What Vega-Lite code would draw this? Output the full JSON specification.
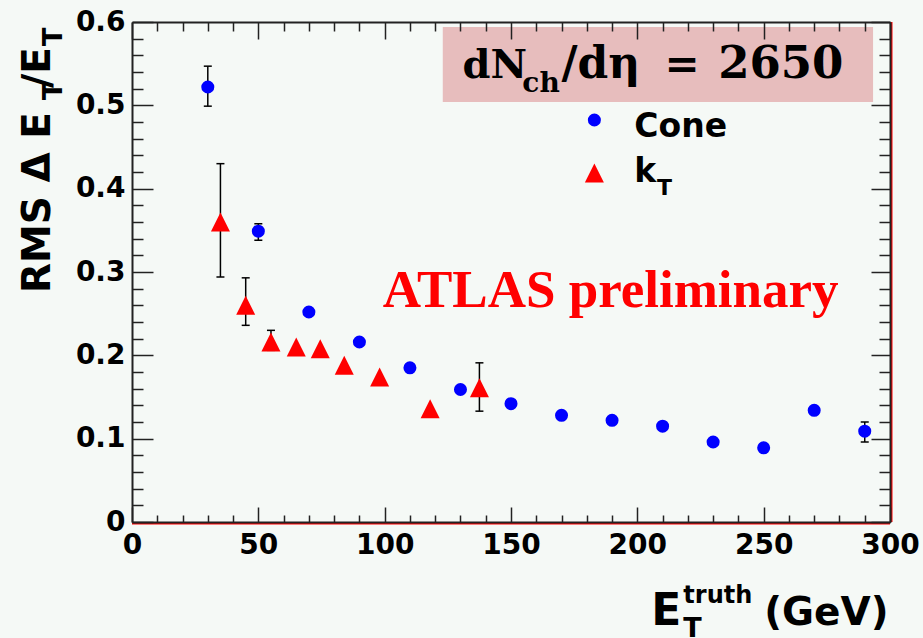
{
  "$schema": "https://vega.github.io/schema/vega-lite/v6.json",
  "width": 758,
  "height": 500,
  "autosize": {"type": "none"},
  "padding": {"left": 132, "top": 22, "right": 33, "bottom": 116},
  "background": "#f5f9f6",
  "config": {"view": {"stroke": null}},
  "datasets": {
    "pts": [
      {"series": "Cone", "x": 30, "y": 0.522, "lo": 0.499, "hi": 0.547},
      {"series": "Cone", "x": 50, "y": 0.349, "lo": 0.338, "hi": 0.358},
      {"series": "Cone", "x": 70, "y": 0.252},
      {"series": "Cone", "x": 90, "y": 0.216},
      {"series": "Cone", "x": 110, "y": 0.185},
      {"series": "Cone", "x": 130, "y": 0.159},
      {"series": "Cone", "x": 150, "y": 0.142},
      {"series": "Cone", "x": 170, "y": 0.128},
      {"series": "Cone", "x": 190, "y": 0.122},
      {"series": "Cone", "x": 210, "y": 0.115},
      {"series": "Cone", "x": 230, "y": 0.096},
      {"series": "Cone", "x": 250, "y": 0.089},
      {"series": "Cone", "x": 270, "y": 0.134},
      {"series": "Cone", "x": 290, "y": 0.109, "lo": 0.096, "hi": 0.120},
      {"series": "kT", "x": 35, "y": 0.36, "lo": 0.294, "hi": 0.43},
      {"series": "kT", "x": 45, "y": 0.26, "lo": 0.236, "hi": 0.293},
      {"series": "kT", "x": 55, "y": 0.216, "lo": 0.206, "hi": 0.230},
      {"series": "kT", "x": 65, "y": 0.21},
      {"series": "kT", "x": 74.5, "y": 0.208},
      {"series": "kT", "x": 84, "y": 0.188},
      {"series": "kT", "x": 98, "y": 0.174},
      {"series": "kT", "x": 118, "y": 0.136},
      {"series": "kT", "x": 137.5, "y": 0.161, "lo": 0.133, "hi": 0.191}
    ]
  },
  "resolve": {"axis": {"x": "independent", "y": "independent"}},
  "layer": [
    {
      "data": {"values": [{}]},
      "mark": {"type": "rect", "fill": "#e7bdbd"},
      "encoding": {
        "x": {"datum": 123, "type": "quantitative", "scale": {"domain": [0, 300], "nice": false, "zero": false}, "axis": null},
        "x2": {"datum": 293.3},
        "y": {"datum": 0.594, "type": "quantitative", "scale": {"domain": [0, 0.6], "nice": false}, "axis": null},
        "y2": {"datum": 0.504}
      }
    },
    {
      "data": {"name": "pts"},
      "transform": [{"filter": "isValid(datum.lo)"}],
      "mark": {"type": "rule", "color": "#000", "strokeWidth": 1.5},
      "encoding": {
        "x": {"field": "x", "type": "quantitative", "scale": {"domain": [0, 300], "nice": false, "zero": false}, "axis": null},
        "y": {"field": "lo", "type": "quantitative", "scale": {"domain": [0, 0.6], "nice": false}, "axis": null},
        "y2": {"field": "hi"}
      }
    },
    {
      "data": {"name": "pts"},
      "transform": [{"filter": "isValid(datum.lo)"}],
      "mark": {"type": "tick", "orient": "horizontal", "color": "#000", "size": 8, "thickness": 1.5, "opacity": 1},
      "encoding": {
        "x": {"field": "x", "type": "quantitative", "scale": {"domain": [0, 300], "nice": false, "zero": false}, "axis": null},
        "y": {"field": "lo", "type": "quantitative", "scale": {"domain": [0, 0.6], "nice": false}, "axis": null}
      }
    },
    {
      "data": {"name": "pts"},
      "transform": [{"filter": "isValid(datum.hi)"}],
      "mark": {"type": "tick", "orient": "horizontal", "color": "#000", "size": 8, "thickness": 1.5, "opacity": 1},
      "encoding": {
        "x": {"field": "x", "type": "quantitative", "scale": {"domain": [0, 300], "nice": false, "zero": false}, "axis": null},
        "y": {"field": "hi", "type": "quantitative", "scale": {"domain": [0, 0.6], "nice": false}, "axis": null}
      }
    },
    {
      "data": {"name": "pts"},
      "transform": [{"filter": "datum.series === 'Cone'"}],
      "mark": {"type": "point", "shape": "circle", "filled": true, "size": 170, "color": "#0000ff", "opacity": 1},
      "encoding": {
        "x": {"field": "x", "type": "quantitative", "scale": {"domain": [0, 300], "nice": false, "zero": false},
          "axis": {"orient": "bottom", "zindex": 1, "values": [0,10,20,30,40,50,60,70,80,90,100,110,120,130,140,150,160,170,180,190,200,210,220,230,240,250,260,270,280,290,300],
            "labelExpr": "datum.value % 50 === 0 ? datum.label : ''",
            "tickSize": {"condition": {"test": "datum.value % 50 === 0", "value": -15}, "value": -7},
            "labelFont": "DejaVu Sans", "labelFontWeight": "bold", "labelFontSize": 28, "labelColor": "#000",
            "labelPadding": 24, "labelFlush": false, "labelOverlap": false, "title": null, "grid": false,
            "domainColor": "#222", "domainWidth": 2, "tickColor": "#222", "tickWidth": 1.5}},
        "y": {"field": "y", "type": "quantitative", "scale": {"domain": [0, 0.6], "nice": false},
          "axis": {"orient": "left", "zindex": 1, "values": [0,0.02,0.04,0.06,0.08,0.1,0.12,0.14,0.16,0.18,0.2,0.22,0.24,0.26,0.28,0.3,0.32,0.34,0.36,0.38,0.4,0.42,0.44,0.46,0.48,0.5,0.52,0.54,0.56,0.58,0.6],
            "format": "~g",
            "labelExpr": "abs(datum.value*10-round(datum.value*10)) < 1e-6 ? datum.label : ''",
            "tickSize": {"condition": {"test": "abs(datum.value*10-round(datum.value*10)) < 1e-6", "value": -21}, "value": -11},
            "labelFont": "DejaVu Sans", "labelFontWeight": "bold", "labelFontSize": 28, "labelColor": "#000",
            "labelPadding": 28, "labelFlush": false, "labelOverlap": false, "title": null, "grid": false,
            "domainColor": "#222", "domainWidth": 2, "tickColor": "#222", "tickWidth": 1.5}}
      }
    },
    {
      "data": {"name": "pts"},
      "transform": [{"filter": "datum.series === 'kT'"}],
      "mark": {"type": "point", "shape": "M0,-1L1,1L-1,1Z", "filled": true, "size": 361, "color": "#ff0000", "opacity": 1},
      "encoding": {
        "x": {"field": "x", "type": "quantitative", "scale": {"domain": [0, 300], "nice": false, "zero": false},
          "axis": {"orient": "top", "zindex": 1, "values": [0,10,20,30,40,50,60,70,80,90,100,110,120,130,140,150,160,170,180,190,200,210,220,230,240,250,260,270,280,290,300],
            "labels": false,
            "tickSize": {"condition": {"test": "datum.value % 50 === 0", "value": -17}, "value": -9},
            "title": null, "grid": false,
            "domainColor": "#222", "domainWidth": 2, "tickColor": "#222", "tickWidth": 1.5}},
        "y": {"field": "y", "type": "quantitative", "scale": {"domain": [0, 0.6], "nice": false},
          "axis": {"orient": "right", "zindex": 1, "values": [0,0.02,0.04,0.06,0.08,0.1,0.12,0.14,0.16,0.18,0.2,0.22,0.24,0.26,0.28,0.3,0.32,0.34,0.36,0.38,0.4,0.42,0.44,0.46,0.48,0.5,0.52,0.54,0.56,0.58,0.6],
            "labels": false,
            "tickSize": {"condition": {"test": "abs(datum.value*10-round(datum.value*10)) < 1e-6", "value": -19}, "value": -11},
            "title": null, "grid": false,
            "domainColor": "#222", "domainWidth": 2, "tickColor": "#222", "tickWidth": 1.5}}
      }
    },
    {
      "data": {"values": [{}]},
      "mark": {"type": "rule", "color": "#ff0000", "strokeWidth": 2, "yOffset": 1.5},
      "encoding": {
        "x": {"datum": 0, "type": "quantitative", "scale": {"domain": [0, 300], "nice": false, "zero": false}, "axis": null},
        "x2": {"datum": 300},
        "y": {"datum": 0, "type": "quantitative", "scale": {"domain": [0, 0.6], "nice": false}, "axis": null}
      }
    },
    {
      "data": {"values": [{}]},
      "mark": {"type": "rule", "color": "#ff0000", "strokeWidth": 2, "xOffset": 1.5},
      "encoding": {
        "x": {"datum": 300, "type": "quantitative", "scale": {"domain": [0, 300], "nice": false, "zero": false}, "axis": null},
        "y": {"datum": 0, "type": "quantitative", "scale": {"domain": [0, 0.6], "nice": false}, "axis": null},
        "y2": {"datum": 0.6}
      }
    },
    {
      "data": {"values": [{}]},
      "mark": {"type": "point", "shape": "circle", "filled": true, "size": 170, "color": "#0000ff", "opacity": 1},
      "encoding": {
        "x": {"datum": 183, "type": "quantitative", "scale": {"domain": [0, 300], "nice": false, "zero": false}, "axis": null},
        "y": {"datum": 0.4824, "type": "quantitative", "scale": {"domain": [0, 0.6], "nice": false}, "axis": null}
      }
    },
    {
      "data": {"values": [{}]},
      "mark": {"type": "point", "shape": "M0,-1L1,1L-1,1Z", "filled": true, "size": 361, "color": "#ff0000", "opacity": 1},
      "encoding": {
        "x": {"datum": 183, "type": "quantitative", "scale": {"domain": [0, 300], "nice": false, "zero": false}, "axis": null},
        "y": {"datum": 0.4188, "type": "quantitative", "scale": {"domain": [0, 0.6], "nice": false}, "axis": null}
      }
    },
    {
      "data": {"values": [{"t": "Cone"}]},
      "mark": {"type": "text", "font": "DejaVu Sans", "fontWeight": "bold", "fontSize": 33, "color": "#000", "align": "left", "baseline": "alphabetic"},
      "encoding": {
        "text": {"field": "t"},
        "x": {"datum": 198.8, "type": "quantitative", "scale": {"domain": [0, 300], "nice": false, "zero": false}, "axis": null},
        "y": {"datum": 0.462, "type": "quantitative", "scale": {"domain": [0, 0.6], "nice": false}, "axis": null}
      }
    },
    {
      "data": {"values": [{"t": "k"}]},
      "mark": {"type": "text", "font": "DejaVu Sans", "fontWeight": "bold", "fontSize": 33, "color": "#000", "align": "left", "baseline": "alphabetic"},
      "encoding": {
        "text": {"field": "t"},
        "x": {"datum": 198.8, "type": "quantitative", "scale": {"domain": [0, 300], "nice": false, "zero": false}, "axis": null},
        "y": {"datum": 0.408, "type": "quantitative", "scale": {"domain": [0, 0.6], "nice": false}, "axis": null}
      }
    },
    {
      "data": {"values": [{"t": "T"}]},
      "mark": {"type": "text", "font": "DejaVu Sans", "fontWeight": "bold", "fontSize": 22, "color": "#000", "align": "left", "baseline": "alphabetic"},
      "encoding": {
        "text": {"field": "t"},
        "x": {"datum": 207.8, "type": "quantitative", "scale": {"domain": [0, 300], "nice": false, "zero": false}, "axis": null},
        "y": {"datum": 0.3924, "type": "quantitative", "scale": {"domain": [0, 0.6], "nice": false}, "axis": null}
      }
    },
    {
      "data": {"values": [{"t": "dN"}]},
      "mark": {"type": "text", "font": "DejaVu Serif", "fontWeight": "bold", "fontSize": 40, "color": "#000", "align": "left", "baseline": "alphabetic"},
      "encoding": {
        "text": {"field": "t"},
        "x": {"datum": 130.8, "type": "quantitative", "scale": {"domain": [0, 300], "nice": false, "zero": false}, "axis": null},
        "y": {"datum": 0.5328, "type": "quantitative", "scale": {"domain": [0, 0.6], "nice": false}, "axis": null}
      }
    },
    {
      "data": {"values": [{"t": "ch"}]},
      "mark": {"type": "text", "font": "DejaVu Serif", "fontWeight": "bold", "fontSize": 28, "color": "#000", "align": "left", "baseline": "alphabetic"},
      "encoding": {
        "text": {"field": "t"},
        "x": {"datum": 154.5, "type": "quantitative", "scale": {"domain": [0, 300], "nice": false, "zero": false}, "axis": null},
        "y": {"datum": 0.516, "type": "quantitative", "scale": {"domain": [0, 0.6], "nice": false}, "axis": null}
      }
    },
    {
      "data": {"values": [{"t": "/dη"}]},
      "mark": {"type": "text", "font": "DejaVu Serif", "fontWeight": "bold", "fontSize": 44, "color": "#000", "align": "left", "baseline": "alphabetic"},
      "encoding": {
        "text": {"field": "t"},
        "x": {"datum": 170, "type": "quantitative", "scale": {"domain": [0, 300], "nice": false, "zero": false}, "axis": null},
        "y": {"datum": 0.5328, "type": "quantitative", "scale": {"domain": [0, 0.6], "nice": false}, "axis": null}
      }
    },
    {
      "data": {"values": [{"t": "="}]},
      "mark": {"type": "text", "font": "DejaVu Serif", "fontWeight": "bold", "fontSize": 42, "color": "#000", "align": "left", "baseline": "alphabetic"},
      "encoding": {
        "text": {"field": "t"},
        "x": {"datum": 210.8, "type": "quantitative", "scale": {"domain": [0, 300], "nice": false, "zero": false}, "axis": null},
        "y": {"datum": 0.5328, "type": "quantitative", "scale": {"domain": [0, 0.6], "nice": false}, "axis": null}
      }
    },
    {
      "data": {"values": [{"t": "2650"}]},
      "mark": {"type": "text", "font": "DejaVu Serif", "fontWeight": "bold", "fontSize": 45, "color": "#000", "align": "left", "baseline": "alphabetic"},
      "encoding": {
        "text": {"field": "t"},
        "x": {"datum": 232, "type": "quantitative", "scale": {"domain": [0, 300], "nice": false, "zero": false}, "axis": null},
        "y": {"datum": 0.5328, "type": "quantitative", "scale": {"domain": [0, 0.6], "nice": false}, "axis": null}
      }
    },
    {
      "data": {"values": [{"t": "ATLAS preliminary"}]},
      "mark": {"type": "text", "font": "Liberation Serif", "fontWeight": "bold", "fontSize": 53, "color": "#ff0000", "align": "left", "baseline": "alphabetic"},
      "encoding": {
        "text": {"field": "t"},
        "x": {"datum": 99.2, "type": "quantitative", "scale": {"domain": [0, 300], "nice": false, "zero": false}, "axis": null},
        "y": {"datum": 0.258, "type": "quantitative", "scale": {"domain": [0, 0.6], "nice": false}, "axis": null}
      }
    },
    {
      "data": {"values": [{"t": "RMS Δ E"}]},
      "mark": {"type": "text", "font": "DejaVu Sans", "fontWeight": "bold", "fontSize": 39, "color": "#000", "align": "left", "baseline": "alphabetic", "angle": 270},
      "encoding": {
        "text": {"field": "t"},
        "x": {"datum": -32.4, "type": "quantitative", "scale": {"domain": [0, 300], "nice": false, "zero": false}, "axis": null},
        "y": {"datum": 0.2748, "type": "quantitative", "scale": {"domain": [0, 0.6], "nice": false}, "axis": null}
      }
    },
    {
      "data": {"values": [{"t": "T"}]},
      "mark": {"type": "text", "font": "DejaVu Sans", "fontWeight": "bold", "fontSize": 27, "color": "#000", "align": "left", "baseline": "alphabetic", "angle": 270},
      "encoding": {
        "text": {"field": "t"},
        "x": {"datum": -27.7, "type": "quantitative", "scale": {"domain": [0, 300], "nice": false, "zero": false}, "axis": null},
        "y": {"datum": 0.5064, "type": "quantitative", "scale": {"domain": [0, 0.6], "nice": false}, "axis": null}
      }
    },
    {
      "data": {"values": [{"t": "/E"}]},
      "mark": {"type": "text", "font": "DejaVu Sans", "fontWeight": "bold", "fontSize": 39, "color": "#000", "align": "left", "baseline": "alphabetic", "angle": 270},
      "encoding": {
        "text": {"field": "t"},
        "x": {"datum": -32.4, "type": "quantitative", "scale": {"domain": [0, 300], "nice": false, "zero": false}, "axis": null},
        "y": {"datum": 0.5208, "type": "quantitative", "scale": {"domain": [0, 0.6], "nice": false}, "axis": null}
      }
    },
    {
      "data": {"values": [{"t": "T"}]},
      "mark": {"type": "text", "font": "DejaVu Sans", "fontWeight": "bold", "fontSize": 27, "color": "#000", "align": "left", "baseline": "alphabetic", "angle": 270},
      "encoding": {
        "text": {"field": "t"},
        "x": {"datum": -27.7, "type": "quantitative", "scale": {"domain": [0, 300], "nice": false, "zero": false}, "axis": null},
        "y": {"datum": 0.5712, "type": "quantitative", "scale": {"domain": [0, 0.6], "nice": false}, "axis": null}
      }
    },
    {
      "data": {"values": [{"t": "E"}]},
      "mark": {"type": "text", "font": "DejaVu Sans", "fontWeight": "bold", "fontSize": 44, "color": "#000", "align": "left", "baseline": "alphabetic"},
      "encoding": {
        "text": {"field": "t"},
        "x": {"datum": 205.5, "type": "quantitative", "scale": {"domain": [0, 300], "nice": false, "zero": false}, "axis": null},
        "y": {"datum": -0.1236, "type": "quantitative", "scale": {"domain": [0, 0.6], "nice": false}, "axis": null}
      }
    },
    {
      "data": {"values": [{"t": "T"}]},
      "mark": {"type": "text", "font": "DejaVu Sans", "fontWeight": "bold", "fontSize": 27, "color": "#000", "align": "left", "baseline": "alphabetic"},
      "encoding": {
        "text": {"field": "t"},
        "x": {"datum": 218.2, "type": "quantitative", "scale": {"domain": [0, 300], "nice": false, "zero": false}, "axis": null},
        "y": {"datum": -0.138, "type": "quantitative", "scale": {"domain": [0, 0.6], "nice": false}, "axis": null}
      }
    },
    {
      "data": {"values": [{"t": "truth"}]},
      "mark": {"type": "text", "font": "DejaVu Sans", "fontWeight": "bold", "fontSize": 24, "color": "#000", "align": "left", "baseline": "alphabetic"},
      "encoding": {
        "text": {"field": "t"},
        "x": {"datum": 218.2, "type": "quantitative", "scale": {"domain": [0, 300], "nice": false, "zero": false}, "axis": null},
        "y": {"datum": -0.0972, "type": "quantitative", "scale": {"domain": [0, 0.6], "nice": false}, "axis": null}
      }
    },
    {
      "data": {"values": [{"t": "(GeV)"}]},
      "mark": {"type": "text", "font": "DejaVu Sans", "fontWeight": "bold", "fontSize": 39, "color": "#000", "align": "left", "baseline": "alphabetic"},
      "encoding": {
        "text": {"field": "t"},
        "x": {"datum": 250.2, "type": "quantitative", "scale": {"domain": [0, 300], "nice": false, "zero": false}, "axis": null},
        "y": {"datum": -0.1236, "type": "quantitative", "scale": {"domain": [0, 0.6], "nice": false}, "axis": null}
      }
    }
  ]
}
